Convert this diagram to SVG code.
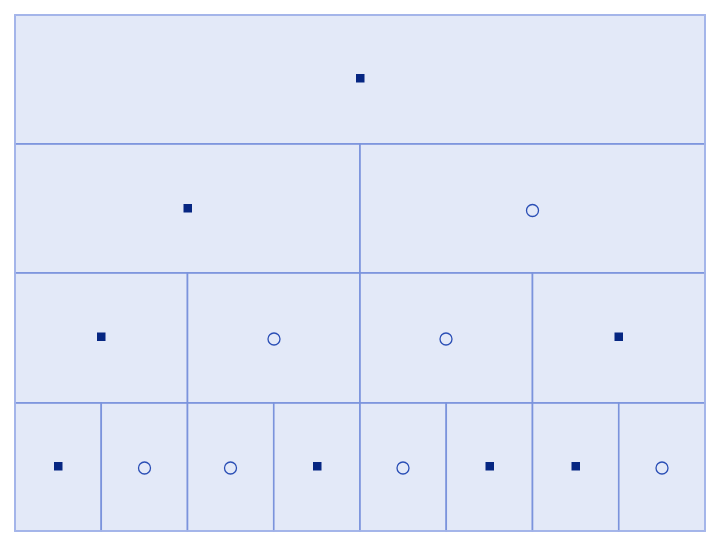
<svg xmlns="http://www.w3.org/2000/svg" width="720" height="546" viewBox="0 0 720 546">
<style>
.cell{fill:#e3e9f8;stroke:#7b93dc;stroke-width:1.6}
.sq{fill:#062682}
.ci{fill:none;stroke:#2a4eb5;stroke-width:1.3}
</style>
<rect x="0" y="0" width="720" height="546" fill="#ffffff"/>
<g id="n0"><rect class="cell" x="15" y="15" width="690" height="129"/><rect class="sq" x="356" y="74" width="8.5" height="8.5"/></g>
<g id="n1"><rect class="cell" x="15" y="144" width="345" height="129"/><rect class="sq" x="183.5" y="204" width="8.5" height="8.5"/></g>
<g id="n2"><rect class="cell" x="360" y="144" width="345" height="129"/><circle class="ci" cx="532.5" cy="210.5" r="6"/></g>
<g id="n3"><rect class="cell" x="15" y="273" width="172.5" height="130"/><rect class="sq" x="97" y="332.5" width="8.5" height="8.5"/></g>
<g id="n4"><rect class="cell" x="187.5" y="273" width="172.5" height="130"/><circle class="ci" cx="274" cy="339" r="6"/></g>
<g id="n5"><rect class="cell" x="360" y="273" width="172.5" height="130"/><circle class="ci" cx="446" cy="339" r="6"/></g>
<g id="n6"><rect class="cell" x="532.5" y="273" width="172.5" height="130"/><rect class="sq" x="614.5" y="332.5" width="8.5" height="8.5"/></g>
<g id="n7"><rect class="cell" x="15" y="403" width="86.25" height="128"/><rect class="sq" x="54" y="462" width="8.5" height="8.5"/></g>
<g id="n8"><rect class="cell" x="101.25" y="403" width="86.25" height="128"/><circle class="ci" cx="144.5" cy="468" r="6"/></g>
<g id="n9"><rect class="cell" x="187.5" y="403" width="86.25" height="128"/><circle class="ci" cx="230.5" cy="468" r="6"/></g>
<g id="n10"><rect class="cell" x="273.75" y="403" width="86.25" height="128"/><rect class="sq" x="313" y="462" width="8.5" height="8.5"/></g>
<g id="n11"><rect class="cell" x="360" y="403" width="86.25" height="128"/><circle class="ci" cx="403" cy="468" r="6"/></g>
<g id="n12"><rect class="cell" x="446.25" y="403" width="86.25" height="128"/><rect class="sq" x="485.5" y="462" width="8.5" height="8.5"/></g>
<g id="n13"><rect class="cell" x="532.5" y="403" width="86.25" height="128"/><rect class="sq" x="571.5" y="462" width="8.5" height="8.5"/></g>
<g id="n14"><rect class="cell" x="618.75" y="403" width="86.25" height="128"/><circle class="ci" cx="662" cy="468" r="6"/></g>
<g id="edges"></g>
<rect x="15" y="15" width="690" height="516" fill="none" stroke="#a9b9ec" stroke-width="1.6"/>
</svg>
